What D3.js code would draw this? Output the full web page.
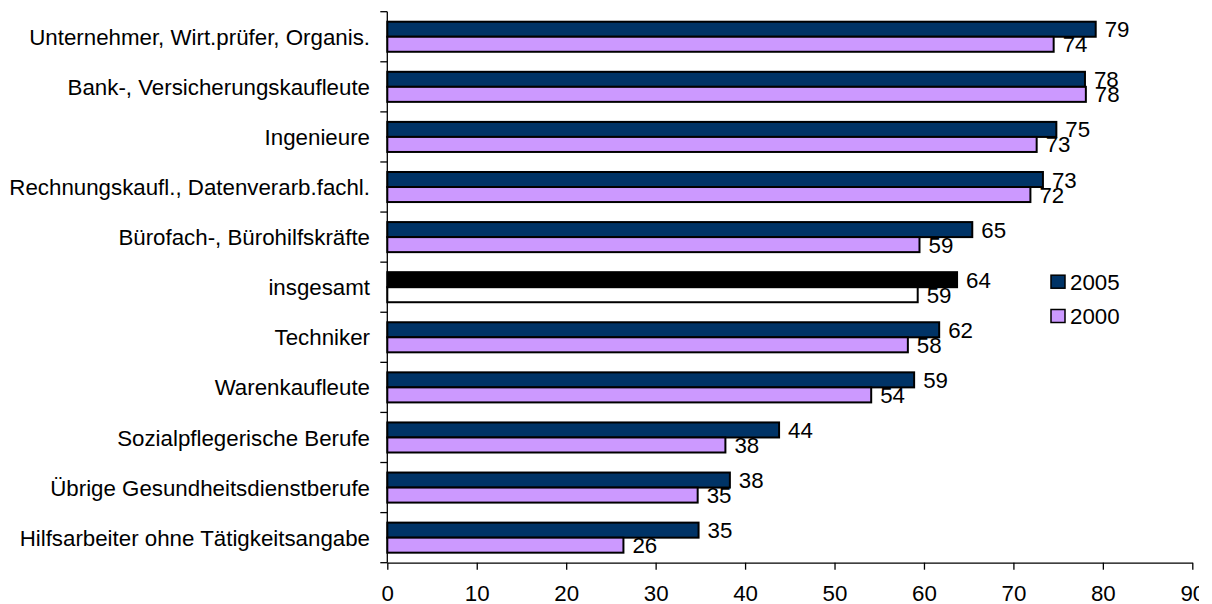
<!DOCTYPE html>
<html>
<head>
<meta charset="utf-8">
<script src="https://cdn.jsdelivr.net/npm/d3@7"></script>
<style>
  html, body { margin: 0; padding: 0; background: #fff; }
  svg { display: block; font-family: "Liberation Sans", Arial, sans-serif; }
</style>
</head>
<body>
<svg id="chart" width="1199" height="604"></svg>
<script>
const categories = [
  "Unternehmer, Wirt.prüfer, Organis.",
  "Bank-, Versicherungskaufleute",
  "Ingenieure",
  "Rechnungskaufl., Datenverarb.fachl.",
  "Bürofach-, Bürohilfskräfte",
  "insgesamt",
  "Techniker",
  "Warenkaufleute",
  "Sozialpflegerische Berufe",
  "Übrige Gesundheitsdienstberufe",
  "Hilfsarbeiter ohne Tätigkeitsangabe"
];
const seriesNames = ["2005", "2000"];
const values2005 = [79.2, 78.0, 74.8, 73.3, 65.4, 63.7, 61.7, 58.9, 43.8, 38.3, 34.8];
const values2000 = [74.5, 78.1, 72.6, 71.9, 59.5, 59.3, 58.2, 54.1, 37.8, 34.7, 26.4];
const labels2005 = [79, 78, 75, 73, 65, 64, 62, 59, 44, 38, 35];
const labels2000 = [74, 78, 73, 72, 59, 59, 58, 54, 38, 35, 26];
const xTicks = [0, 10, 20, 30, 40, 50, 60, 70, 80, 90];

const colors = {"2005": "#003366", "2000": "#CC99FF"};
const highlight = {"2005": "#000000", "2000": "#FFFFFF"};
const highlightCat = "insgesamt";

const svg = d3.select("#chart");
const FS = "22.3px";

const x = d3.scaleLinear().domain([0, 90]).range([387.3, 1192.3]);
const y = d3.scaleBand().domain(categories).range([11.7, 562.7]).paddingInner(0.4).paddingOuter(0.2);
const ySub = d3.scaleBand().domain(seriesNames).range([0, y.bandwidth()]);

const rows = categories.map((c, i) => ({
  cat: c,
  items: [
    {s: "2005", v: values2005[i], l: labels2005[i]},
    {s: "2000", v: values2000[i], l: labels2000[i]}
  ]
}));

// bars
const g = svg.append("g");
const grp = g.selectAll("g.row").data(rows).join("g")
  .attr("transform", d => `translate(0,${y(d.cat)})`);

grp.selectAll("rect").data(d => d.items.map(it => ({...it, cat: d.cat}))).join("rect")
  .attr("x", x(0))
  .attr("y", d => ySub(d.s))
  .attr("width", d => x(d.v) - x(0))
  .attr("height", ySub.bandwidth())
  .attr("fill", d => d.cat === highlightCat ? highlight[d.s] : colors[d.s])
  .attr("stroke", "#000")
  .attr("stroke-width", 2);

grp.selectAll("text").data(d => d.items).join("text")
  .attr("x", d => x(d.v) + 9)
  .attr("y", d => ySub(d.s) + ySub.bandwidth() / 2)
  .attr("dy", "0.36em")
  .attr("font-size", FS)
  .attr("fill", "#000")
  .text(d => d.l);

// y axis
const yBounds = d3.range(categories.length + 1).map(i => 11.7 + i * y.step());
svg.append("line")
  .attr("x1", x(0)).attr("x2", x(0))
  .attr("y1", yBounds[0]).attr("y2", yBounds[yBounds.length - 1])
  .attr("stroke", "#000").attr("stroke-width", 1.3);
svg.selectAll("line.ytick").data(yBounds).join("line")
  .attr("class", "ytick")
  .attr("x1", x(0) - 7).attr("x2", x(0))
  .attr("y1", d => d).attr("y2", d => d)
  .attr("stroke", "#000").attr("stroke-width", 1.3);
svg.selectAll("text.ylab").data(categories).join("text")
  .attr("class", "ylab")
  .attr("x", 370)
  .attr("y", d => y(d) + y.bandwidth() / 2)
  .attr("dy", "0.36em")
  .attr("text-anchor", "end")
  .attr("font-size", FS)
  .attr("fill", "#000")
  .text(d => d);

// x axis
const xAxis = d3.axisBottom(x).tickValues(xTicks).tickSize(7).tickSizeOuter(0).tickPadding(15);
const xg = svg.append("g").attr("transform", "translate(0,562.7)").call(xAxis);
xg.select(".domain").attr("stroke", "#000").attr("stroke-width", 1.3);
xg.selectAll(".tick line").attr("stroke", "#000").attr("stroke-width", 1.3);
xg.selectAll(".tick text")
  .attr("font-size", FS)
  .attr("font-family", "'Liberation Sans', Arial, sans-serif")
  .attr("fill", "#000");

// legend
const legend = svg.append("g").attr("transform", "translate(1051,0)");
const legY = {"2005": 281.7, "2000": 316};
seriesNames.forEach(s => {
  legend.append("rect")
    .attr("x", 0).attr("y", legY[s] - 6.5)
    .attr("width", 14).attr("height", 13)
    .attr("fill", colors[s]).attr("stroke", "#000").attr("stroke-width", 1.5);
  legend.append("text")
    .attr("x", 19).attr("y", legY[s]).attr("dy", "0.36em")
    .attr("font-size", FS).attr("fill", "#000")
    .text(s);
});
</script>
</body>
</html>
